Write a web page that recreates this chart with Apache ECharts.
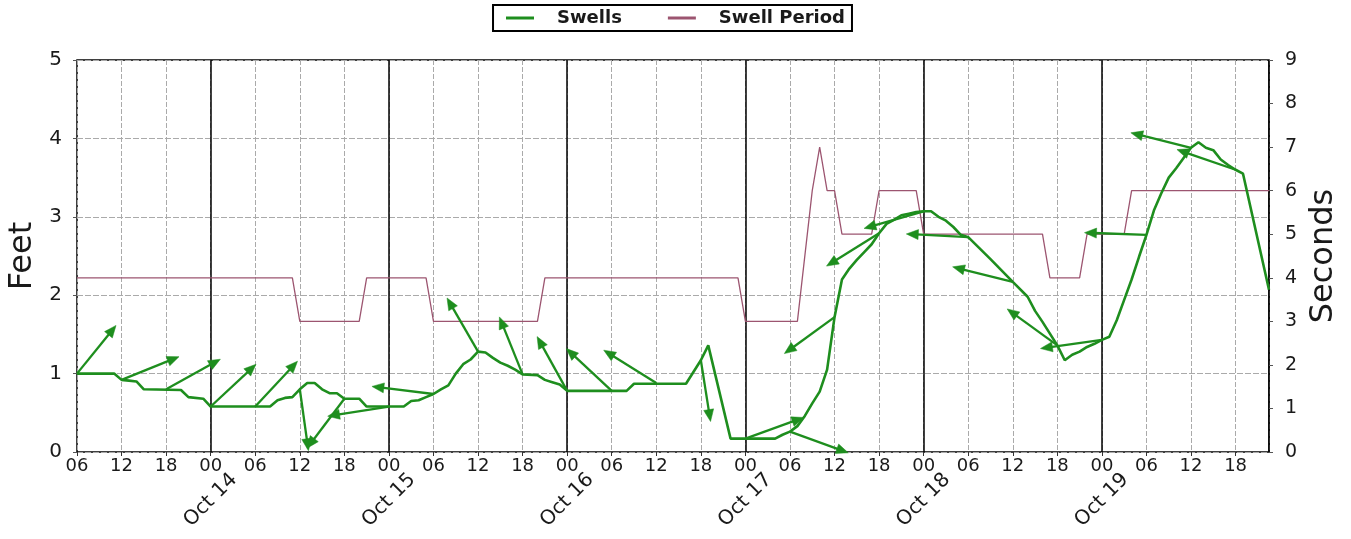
<!DOCTYPE html>
<html>
<head>
<meta charset="utf-8">
<script src="https://cdn.jsdelivr.net/npm/echarts@6/dist/echarts.min.js"></script>
<style>
  html, body { margin: 0; padding: 0; background: #fff; }
  #chart { width: 1351px; height: 539px; }
</style>
</head>
<body>
<div id="chart"></div>
<script>
// ---- DATA (times are "day-of-October HH:MM") ----
const swellTimes = [
  "13 06:00","13 11:00","13 12:00","13 13:00","13 14:00","13 15:00","13 20:00","13 21:00","13 23:00",
  "14 00:00","14 08:00","14 09:00","14 10:00","14 11:00","14 12:00","14 13:00","14 14:00","14 15:00","14 16:00","14 17:00","14 18:00","14 20:00","14 21:00",
  "15 02:00","15 03:00","15 04:00","15 05:00","15 06:00","15 07:00","15 08:00","15 09:00","15 10:00","15 11:00","15 12:00","15 13:00","15 14:00","15 15:00","15 16:00","15 17:00","15 18:00","15 20:00","15 21:00","15 22:00","15 23:00",
  "16 00:00","16 08:00","16 09:00","16 16:00","16 18:00","16 19:00","16 22:00",
  "17 04:00","17 05:00","17 06:00","17 07:00","17 08:00","17 09:00","17 10:00","17 11:00","17 12:00","17 13:00","17 14:00","17 15:00","17 16:00","17 17:00","17 18:00","17 19:00","17 20:00","17 21:00","17 22:00","17 23:00",
  "18 00:00","18 01:00","18 02:00","18 03:00","18 04:00","18 05:00","18 06:00","18 09:00","18 12:00","18 14:00","18 15:00","18 16:00","18 17:00","18 18:00","18 19:00","18 20:00","18 21:00","18 22:00","18 23:00",
  "19 00:00","19 01:00","19 02:00","19 03:00","19 04:00","19 05:00","19 06:00","19 07:00","19 08:00","19 09:00","19 10:00","19 11:00","19 12:00","19 13:00","19 14:00","19 15:00","19 16:00","19 17:00","19 18:00","19 19:00","19 22:30"
];
const swellFeet = [
  1.00,1.00,0.92,0.91,0.90,0.80,0.79,0.70,0.68,
  0.58,0.58,0.66,0.69,0.70,0.80,0.88,0.88,0.80,0.75,0.75,0.68,0.68,0.58,
  0.58,0.65,0.66,0.70,0.74,0.80,0.85,1.00,1.12,1.18,1.28,1.27,1.20,1.14,1.10,1.05,0.99,0.98,0.92,0.89,0.86,
  0.78,0.78,0.87,0.87,1.17,1.36,0.17,
  0.17,0.22,0.26,0.33,0.46,0.62,0.77,1.05,1.72,2.20,2.34,2.45,2.55,2.65,2.79,2.91,2.96,3.02,3.04,3.06,
  3.07,3.07,3.00,2.95,2.87,2.77,2.74,2.46,2.17,1.98,1.80,1.66,1.51,1.36,1.17,1.24,1.28,1.34,1.38,
  1.43,1.47,1.68,1.94,2.20,2.49,2.77,3.08,3.30,3.50,3.62,3.75,3.88,3.95,3.88,3.85,3.73,3.66,3.60,3.55,2.07
];

const periodTimes = [
  "13 06:00","14 11:00","14 12:00","14 20:00","14 21:00","15 05:00","15 06:00","15 20:00","15 21:00",
  "16 23:00","17 00:00","17 07:00","17 09:00","17 10:00","17 11:00","17 12:00","17 13:00","17 17:00","17 18:00","17 23:00",
  "18 00:00","18 16:00","18 17:00","18 21:00","18 22:00","19 03:00","19 04:00","19 22:30"
];
const periodSeconds = [
  4,4,3,3,4,4,3,3,4,
  4,3,3,6,7,6,6,5,5,6,6,
  5,5,4,4,5,5,6,6
];

// direction arrows: base time, height at base (ft), direction of arrow (degrees clockwise from up)
const arrowTimes = [
  "13 06:00","13 12:00","13 18:00","14 00:00","14 06:00","14 12:00","14 18:00",
  "15 00:00","15 06:00","15 12:00","15 18:00","16 00:00","16 06:00","16 12:00","16 18:00",
  "17 00:00","17 06:00","17 12:00","17 18:00","18 00:00","18 06:00","18 12:00","18 18:00",
  "19 00:00","19 06:00","19 12:00","19 18:00"
];
const arrowFeet = [
  1.00,0.92,0.80,0.58,0.58,0.80,0.68,
  0.58,0.74,1.28,0.99,0.78,0.78,0.88,1.17,
  0.17,0.26,1.72,2.79,3.07,2.74,2.17,1.36,
  1.43,2.77,3.88,3.60
];
const arrowBearing = [
  39,68,61,47,43,172,217,
  261,277,330,338,331,313,302,171,
  70,110,234,238,254,273,284,306,
  262,272,284,289
];

const hourTicks = ["00","06","12","18"];
const dateLabel = "Oct";
const firstDay = 13;

// ---- helpers ----
function hrs(s) { // hours since Oct 13 00:00
  const parts = s.split(' ');
  const hm = parts[1].split(':');
  return (+parts[0] - firstDay) * 24 + (+hm[0]) + (+hm[1]) / 60;
}
const swellData = swellTimes.map((t, i) => [hrs(t), swellFeet[i]]);
const periodData = periodTimes.map((t, i) => [hrs(t), periodSeconds[i]]);
const arrowData = arrowTimes.map((t, i) => [hrs(t), arrowFeet[i], arrowBearing[i]]);

const GREEN = '#1e8e1e';
const PERIOD = '#9c5570';
const FONT = 'DejaVu Sans';
const TXT = '#1a1a1a';
const NONE = 'rgba(0,0,0,0)';

function renderArrow(params, api) {
  const p = api.coord([api.value(0), api.value(1)]);
  const a = api.value(2) * Math.PI / 180;
  const ux = Math.sin(a), uy = -Math.cos(a);
  const L = 62, H = 12, W = 5;
  const tip = [p[0] + ux * L, p[1] + uy * L];
  const base = [tip[0] - ux * H, tip[1] - uy * H];
  const left = [base[0] - uy * W, base[1] + ux * W];
  const right = [base[0] + uy * W, base[1] - ux * W];
  return {
    type: 'group',
    children: [
      { type: 'line', shape: { x1: p[0], y1: p[1], x2: base[0] + ux * 2, y2: base[1] + uy * 2 },
        style: { stroke: GREEN, lineWidth: 2.3 } },
      { type: 'polygon', shape: { points: [tip, left, right] },
        style: { fill: GREEN, stroke: GREEN, lineWidth: 0.5 } }
    ]
  };
}

const chart = echarts.init(document.getElementById('chart'), null, { renderer: 'canvas' });
const xMin = hrs(swellTimes[0]);
const xMax = hrs(swellTimes[swellTimes.length - 1]);

function isMultiple(v, m) { const r = ((v % m) + m) % m; return r < 1e-6 || m - r < 1e-6; }

chart.setOption({
  animation: false,
  backgroundColor: '#fff',
  textStyle: { fontFamily: FONT, color: TXT },
  legend: {
    left: 'center',
    top: 5,
    data: ['Swells', 'Swell Period'],
    icon: 'rect',
    itemWidth: 28,
    itemHeight: 3,
    itemGap: 46,
    padding: [4, 7, 4, 13],
    borderColor: '#000',
    borderWidth: 2,
    textStyle: { fontFamily: FONT, fontWeight: 'bold', fontSize: 18, color: TXT, padding: [0, 0, 0, 18] }
  },
  grid: {
    left: 77, right: 82, top: 60, bottom: 87,
    containLabel: false, outerBoundsMode: 'none',
    show: true, borderColor: '#000', borderWidth: 1.5
  },
  xAxis: [
    {
      type: 'value', min: xMin, max: xMax, interval: 6,
      axisLine: { show: false },
      axisTick: { show: true, length: 4, lineStyle: { color: '#333' } },
      axisLabel: {
        fontFamily: FONT, fontSize: 18, color: TXT, margin: 5,
        showMaxLabel: false,
        formatter: v => (isMultiple(v, 6) ? hourTicks[Math.round(((v % 24) + 24) % 24 / 6) % 4] : '')
      },
      splitLine: { show: true, lineStyle: { color: '#aaa', type: [5, 2], width: 1 } }
    },
    {
      type: 'value', min: xMin, max: xMax, interval: 6, position: 'bottom',
      axisLine: { show: false },
      axisTick: { show: false },
      axisLabel: {
        fontFamily: FONT, fontSize: 20, color: TXT, margin: 48,
        rotate: 45, align: 'center', verticalAlign: 'middle',
        showMinLabel: false, showMaxLabel: false,
        formatter: v => (isMultiple(v, 24) ? dateLabel + ' ' + Math.round(firstDay + v / 24) : '')
      },
      splitLine: { show: true, lineStyle: { color: [NONE, NONE, NONE, '#000'], type: 'solid', width: 1.5 } }
    }
  ],
  yAxis: [
    {
      type: 'value', min: 0, max: 5, interval: 1, position: 'left',
      name: 'Feet', nameLocation: 'middle', nameGap: 38, nameRotate: 90,
      nameTextStyle: { fontFamily: FONT, fontSize: 32, color: TXT },
      axisLine: { show: false },
      axisTick: { show: true, length: 4, lineStyle: { color: '#555' } },
      axisLabel: { fontFamily: FONT, fontSize: 20, color: TXT, margin: 15 },
      splitLine: { show: true, lineStyle: { color: '#aaa', type: [6, 2], width: 1 } }
    },
    {
      type: 'value', min: 0, max: 9, interval: 1, position: 'right',
      name: 'Seconds', nameLocation: 'middle', nameGap: 38, nameRotate: 90,
      nameTextStyle: { fontFamily: FONT, fontSize: 32, color: TXT },
      axisLine: { show: false },
      axisTick: { show: true, length: 4, lineStyle: { color: '#555' } },
      axisLabel: { fontFamily: FONT, fontSize: 19, color: TXT, margin: 16 },
      splitLine: { show: false }
    }
  ],
  series: [
    {
      name: 'Swell Period', type: 'line', xAxisIndex: 0, yAxisIndex: 1,
      data: periodData, showSymbol: false, symbol: 'none',
      lineStyle: { color: PERIOD, width: 1.3 }, itemStyle: { color: PERIOD },
      z: 2
    },
    {
      name: 'Swells', type: 'line', xAxisIndex: 0, yAxisIndex: 0,
      data: swellData, showSymbol: false, symbol: 'none',
      lineStyle: { color: GREEN, width: 2.6 }, itemStyle: { color: GREEN },
      z: 3
    },
    {
      name: 'Swell arrows', type: 'custom', xAxisIndex: 0, yAxisIndex: 0,
      data: arrowData, renderItem: renderArrow, clip: false,
      encode: { x: 0, y: 1 }, z: 4, silent: true
    }
  ]
});
</script>
</body>
</html>
